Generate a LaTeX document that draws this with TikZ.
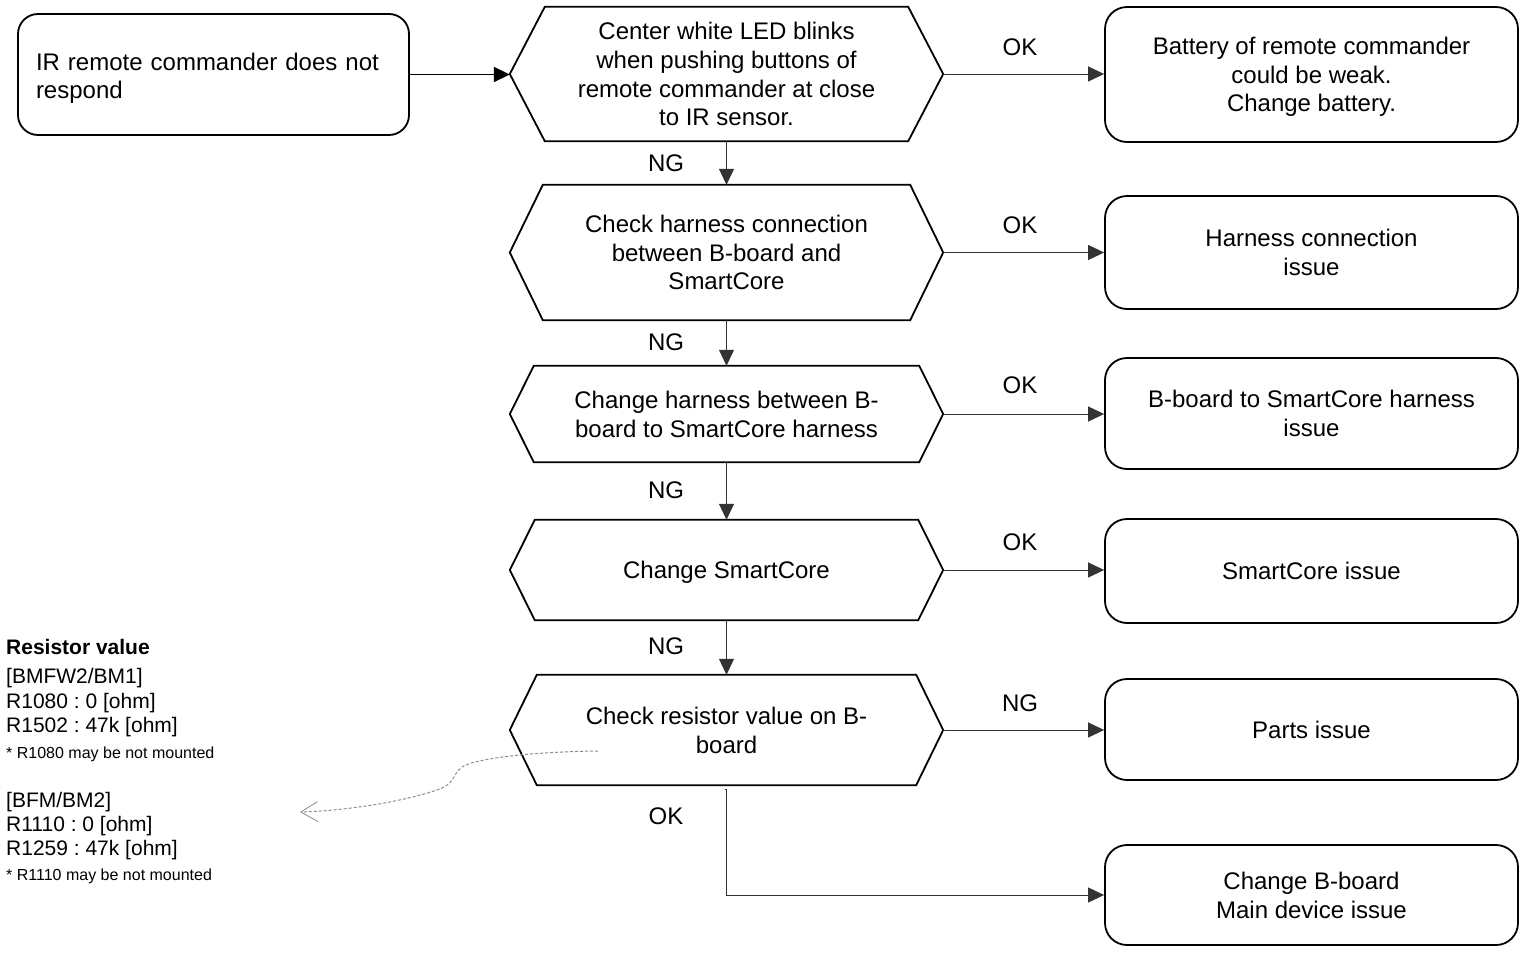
\documentclass[tikz,border=0pt]{standalone}
\usepackage{fontspec}
\setmainfont{Liberation Sans}
\usetikzlibrary{arrows.meta}
\frenchspacing
\newcommand\hexline[2]{\draw[line width=1.8pt,line join=miter] (#1.west) -- ([xshift=#2pt]#1.north west) -- ([xshift=-#2pt]#1.north east) -- (#1.east) -- ([xshift=-#2pt]#1.south east) -- ([xshift=#2pt]#1.south west) -- cycle;}
\begin{document}
\frenchspacing
\begin{tikzpicture}[x=1pt,y=-1pt,
  every node/.style={font=\fontsize{24}{28.8}\selectfont},
  hexnode/.style={minimum width=433pt,minimum height=#1pt,inner sep=0pt,align=center,text depth=-3pt},
  rbox/.style={draw,line width=1.8pt,rounded corners=22pt,minimum width=413pt,minimum height=#1pt,inner sep=0pt,align=center,text depth=0pt},
  conn/.style={draw=black!80,line width=1pt,-{Triangle[length=16pt,width=15pt]}},
  lbl/.style={inner sep=0pt},
  restxt/.style={inner sep=0pt,anchor=base west,font=\fontsize{21}{24.5}\selectfont},
  ressmall/.style={inner sep=0pt,anchor=base west,font=\fontsize{16}{19}\selectfont},
  note/.style={draw=black!45,line width=1pt,dash pattern=on 3pt off 2pt,-{Straight Barb[length=17pt,width=20pt,line width=0.8pt]}}
]
\path[use as bounding box] (0,0) rectangle (1521,953);

% start box
\node[draw,line width=1.8pt,rounded corners=20pt,minimum height=121pt,inner xsep=18pt,inner ysep=0pt,text width=355pt,align=left,text depth=26pt] (start) at (213.5,74.5) {IR remote commander does not\\respond};

% decision hexagons
\node[hexnode=134] (h1) at (726.5,74) {Center white LED blinks\\when pushing buttons of\\remote commander at close\\to IR sensor.};
\node[hexnode=135] (h2) at (726.5,252.5) {Check harness connection\\between B-board and\\SmartCore};
\node[hexnode=96] (h3) at (726.5,414) {Change harness between B-\\board to SmartCore harness};
\node[hexnode=100] (h4) at (726.5,570) {Change SmartCore};
\node[hexnode=110] (h5) at (726.5,730) {Check resistor value on B-\\board};
\hexline{h1}{35}
\hexline{h2}{33}
\hexline{h3}{24}
\hexline{h4}{25}
\hexline{h5}{27}

% result boxes
\node[rbox=135] (b1) at (1311.5,74.5) {Battery of remote commander\\could be weak.\\Change battery.};
\node[rbox=113] (b2) at (1311.5,252.5) {Harness connection\\issue};
\node[rbox=111] (b3) at (1311.5,413.5) {B-board to SmartCore harness\\issue};
\node[rbox=104] (b4) at (1311.5,571) {SmartCore issue};
\node[rbox=101] (b5) at (1311.5,729.5) {Parts issue};
\node[rbox=100] (b6) at (1311.5,895) {Change B-board\\Main device issue};

% connectors
\draw[conn,draw=black,line width=1.8pt] (start.east) -- (start.east -| h1.west);
\draw[conn] (h1.east) -- (h1.east -| b1.west);
\draw[conn] (h2.east) -- (h2.east -| b2.west);
\draw[conn] (h3.east) -- (h3.east -| b3.west);
\draw[conn] (h4.east) -- (h4.east -| b4.west);
\draw[conn] (h5.east) -- (h5.east -| b5.west);
\draw[conn] (h1.south) -- (h2.north);
\draw[conn] (h2.south) -- (h3.north);
\draw[conn] (h3.south) -- (h4.north);
\draw[conn] (h4.south) -- (h5.north);
\coordinate (t0) at ([xshift=-2pt,yshift=-4pt]h5.south);
\coordinate (t1) at ([yshift=-4pt]h5.south);
\draw[conn] (t0) -- (t1) |- (b6.west);

% labels
\node[lbl] (ok1) at (1020,47) {OK};
\node[lbl] (ok2) at (1020,225) {OK};
\node[lbl] (ok3) at (1020,385) {OK};
\node[lbl] (ok4) at (1020,542) {OK};
\node[lbl] (ng5) at (1020,703) {NG};
\node[lbl] (ng1) at (666,163) {NG};
\node[lbl] (ng2) at (666,342) {NG};
\node[lbl] (ng3) at (666,490) {NG};
\node[lbl] (ng4) at (666,646) {NG};
\node[lbl] (ok5) at (666,816) {OK};

% resistor note
\node[restxt,font=\fontsize{21}{24.5}\selectfont\bfseries] (rt) at (6,654) {Resistor value};
\node[restxt] (r1) at (6,683) {[BMFW2/BM1]};
\node[restxt] (r2) at (6,708) {R1080 : 0 [ohm]};
\node[restxt] (r3) at (6,732) {R1502 : 47k [ohm]};
\node[ressmall] (r4) at (6,758) {* R1080 may be not mounted};
\node[restxt] (r5) at (6,807) {[BFM/BM2]};
\node[restxt] (r6) at (6,831) {R1110 : 0 [ohm]};
\node[restxt] (r7) at (6,855) {R1259 : 47k [ohm]};
\node[ressmall] (r8) at (6,880) {* R1110 may be not mounted};

\coordinate (c0) at (598,751);
\coordinate (c1) at (300,812);
\draw[note] (c0) .. controls (520,752) and (472,760) .. (462,767) .. controls (452,775) and (455,783) .. (440,789) .. controls (400,803) and (340,811) .. (c1);
\end{tikzpicture}
\end{document}
